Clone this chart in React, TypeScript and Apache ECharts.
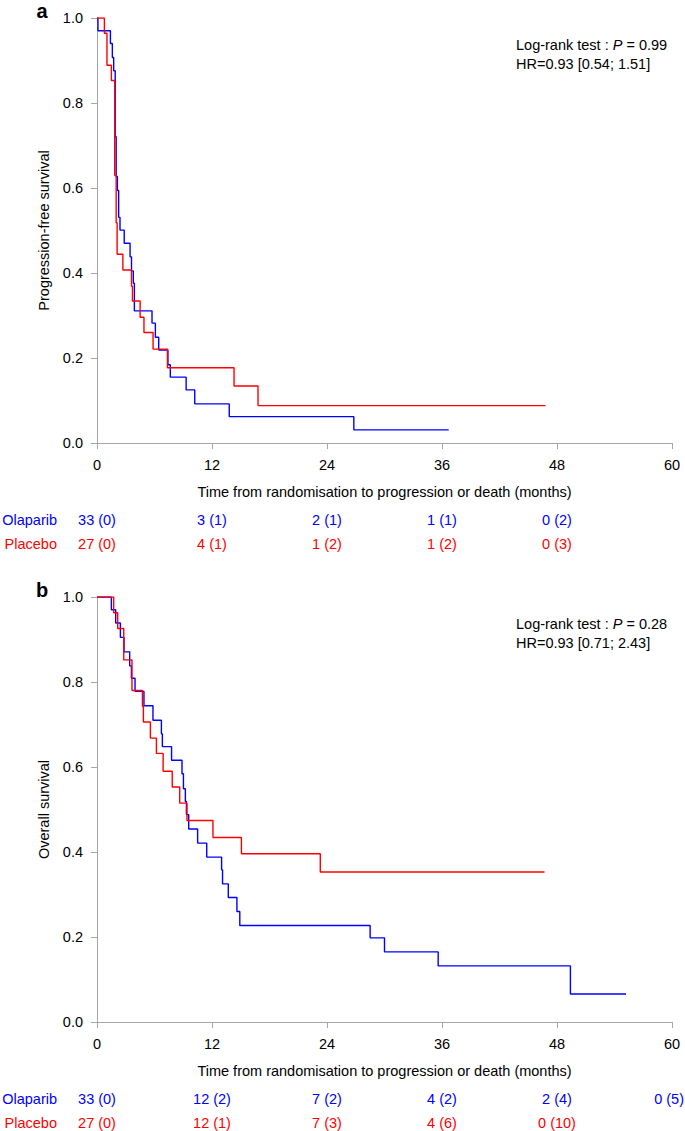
import React, { useEffect, useRef } from "react";
import * as echarts from "echarts";

const FONT = "'Liberation Sans', Arial, Helvetica, sans-serif";
const BLUE = "#0000ff";
const RED = "#ff0000";
const AXIS = "#a6a6a6";

const xTicks = [0, 12, 24, 36, 48, 60];
const yTicks = [0, 0.2, 0.4, 0.6, 0.8, 1.0];

// Panel a: progression-free survival (time in months, survival)
const pfsOlaTime = [0, 0.1, 1.4, 1.6, 1.74, 1.9, 2.0, 2.13, 2.26, 2.4, 2.84, 3.45, 3.6, 3.79, 3.9, 5.74, 6.09, 6.44, 7.4, 7.65, 9.3, 10.2, 13.8, 26.8, 36.7];
const pfsOlaSurv = [1.0, 0.97, 0.94, 0.907, 0.876, 0.721, 0.627, 0.594, 0.531, 0.501, 0.47, 0.438, 0.405, 0.376, 0.311, 0.282, 0.249, 0.219, 0.184, 0.155, 0.125, 0.092, 0.062, 0.031, 0.031];
const pfsPlaTime = [0, 0.77, 1.04, 1.5, 1.85, 2.0, 2.1, 2.7, 3.6, 3.7, 4.5, 4.9, 5.85, 7.35, 14.3, 16.8, 46.8];
const pfsPlaSurv = [1.0, 0.964, 0.889, 0.853, 0.63, 0.518, 0.444, 0.407, 0.369, 0.334, 0.296, 0.26, 0.221, 0.177, 0.134, 0.088, 0.088];

// Panel b: overall survival
const osOlaTime = [0, 1.5, 1.95, 2.44, 2.82, 3.41, 3.59, 3.97, 4.9, 5.84, 6.72, 6.82, 7.78, 8.87, 9.02, 9.22, 9.33, 9.57, 10.5, 11.45, 13.0, 13.1, 13.7, 14.6, 14.9, 28.5, 30.0, 35.6, 49.4, 55.2];
const osOlaSurv = [1.0, 0.97, 0.939, 0.905, 0.871, 0.838, 0.809, 0.778, 0.744, 0.71, 0.678, 0.648, 0.616, 0.584, 0.549, 0.519, 0.488, 0.454, 0.421, 0.388, 0.358, 0.325, 0.293, 0.26, 0.227, 0.198, 0.165, 0.132, 0.066, 0.066];
const osPlaTime = [0, 1.74, 2.16, 2.79, 3.65, 4.74, 4.84, 5.57, 6.2, 6.9, 7.85, 8.63, 9.39, 12.1, 15.07, 23.3, 46.7];
const osPlaSurv = [1.0, 0.963, 0.926, 0.852, 0.78, 0.743, 0.706, 0.668, 0.632, 0.59, 0.553, 0.515, 0.474, 0.434, 0.396, 0.353, 0.353];

// Numbers at risk
const riskTimes = [0, 12, 24, 36, 48, 60];
const pfsRiskOla = ["33 (0)", "3 (1)", "2 (1)", "1 (1)", "0 (2)"];
const pfsRiskPla = ["27 (0)", "4 (1)", "1 (2)", "1 (2)", "0 (3)"];
const osRiskOla = ["33 (0)", "12 (2)", "7 (2)", "4 (2)", "2 (4)", "0 (5)"];
const osRiskPla = ["27 (0)", "12 (1)", "7 (3)", "4 (6)", "0 (10)"];

const groupNames = ["Olaparib", "Placebo"];
const panelLetters = ["a", "b"];
const yTitles = ["Progression-free survival", "Overall survival"];
const xTitle = "Time from randomisation to progression or death (months)";
const pValues = ["0.99", "0.28"];
const hrTexts = ["HR=0.93 [0.54; 1.51]", "HR=0.93 [0.71; 2.43]"];

const FS = 14.5;
const GRID_TOPS = [18, 597];
const GRID_H = 425;
const PAGE_W = 685;

function zip(t: number[], s: number[]) {
  return t.map((v, i) => [v, s[i]]);
}

function measure(text: string, font: string): number {
  const c = document.createElement("canvas").getContext("2d");
  if (!c) return text.length * FS * 0.55;
  c.font = font;
  return c.measureText(text).width;
}

export default function App() {
  const ref = useRef<HTMLDivElement>(null);
  useEffect(() => {
    document.body.style.margin = "0";
    const chart = echarts.init(ref.current!, null, { renderer: "svg" });
    const xAxisBase = (gi: number) => ({
      type: "value",
      gridIndex: gi,
      min: 0,
      max: 60,
      interval: 12,
      axisLine: { show: true, lineStyle: { color: AXIS, width: 1 } },
      axisTick: { show: true, length: 6, lineStyle: { color: AXIS } },
      axisLabel: { color: "#000", fontSize: FS, fontFamily: FONT, margin: 14 },
      splitLine: { show: false },
      name: xTitle,
      nameLocation: "middle",
      nameGap: 41,
      nameTextStyle: { color: "#000", fontSize: FS, fontFamily: FONT },
    });
    const yAxisBase = (gi: number) => ({
      type: "value",
      gridIndex: gi,
      min: 0,
      max: 1,
      interval: 0.2,
      axisLine: { show: true, lineStyle: { color: AXIS, width: 1 } },
      axisTick: { show: true, length: 6, lineStyle: { color: AXIS } },
      axisLabel: {
        color: "#000",
        fontSize: FS,
        fontFamily: FONT,
        margin: 14,
        formatter: (v: number) => v.toFixed(1),
      },
      splitLine: { show: false },
      name: yTitles[gi],
      nameLocation: "middle",
      nameRotate: 90,
      nameGap: 46,
      nameTextStyle: { color: "#000", fontSize: FS, fontFamily: FONT },
    });
    const line = (gi: number, data: number[][], color: string, z: number) => ({
      type: "line",
      xAxisIndex: gi,
      yAxisIndex: gi,
      step: "end",
      data,
      symbol: "none",
      z,
      lineStyle: { color, width: 1.4 },
      emphasis: { disabled: true },
    });
    chart.setOption({
      animation: false,
      grid: GRID_TOPS.map((top) => ({ left: 97, top, width: 575, height: GRID_H })),
      xAxis: [xAxisBase(0), xAxisBase(1)],
      yAxis: [yAxisBase(0), yAxisBase(1)],
      series: [
        line(0, zip(pfsOlaTime, pfsOlaSurv), BLUE, 2),
        line(0, zip(pfsPlaTime, pfsPlaSurv), RED, 3),
        line(1, zip(osOlaTime, osOlaSurv), BLUE, 2),
        line(1, zip(osPlaTime, osPlaSurv), RED, 3),
      ],
    });

    const graphics: any[] = [];
    const font = `${FS}px ${FONT}`;
    const txt = (x: number, y: number, text: string, color: string, align: string) =>
      graphics.push({
        type: "text",
        x,
        y,
        style: { text, fill: color, font, align, verticalAlign: "middle" },
      });
    const risks = [
      [pfsRiskOla, pfsRiskPla],
      [osRiskOla, osRiskPla],
    ];
    [0, 1].forEach((gi) => {
      const bottom = GRID_TOPS[gi] + GRID_H;
      graphics.push({
        type: "text",
        x: 42,
        y: GRID_TOPS[gi] - 7,
        style: {
          text: panelLetters[gi],
          fill: "#000",
          font: `bold 20px ${FONT}`,
          align: "center",
          verticalAlign: "middle",
        },
      });
      graphics.push({
        type: "text",
        x: 516,
        y: GRID_TOPS[gi] + 27,
        style: {
          text: `{n|Log-rank test : }{i|P}{n| = ${pValues[gi]}}`,
          fill: "#000",
          align: "left",
          verticalAlign: "middle",
          rich: {
            n: { fontSize: FS, fontFamily: FONT, fill: "#000" },
            i: { fontSize: FS, fontFamily: FONT, fontStyle: "italic", fill: "#000" },
          },
        },
      });
      txt(516, GRID_TOPS[gi] + 45.5, hrTexts[gi], "#000", "left");
      const rowsY = [bottom + 77, bottom + 101];
      const colors = [BLUE, RED];
      [0, 1].forEach((r) => {
        txt(57, rowsY[r], groupNames[r], colors[r], "right");
        risks[gi][r].forEach((label: string, k: number) => {
          const px = chart.convertToPixel({ xAxisIndex: gi }, riskTimes[k]) as number;
          const w = measure(label, font);
          const x = Math.min(px, PAGE_W - 1 - w / 2);
          txt(x, rowsY[r], label, colors[r], "center");
        });
      });
    });
    chart.setOption({ graphic: graphics });
    return () => chart.dispose();
  }, []);
  return <div ref={ref} style={{ width: 685, height: 1131 }} />;
}
